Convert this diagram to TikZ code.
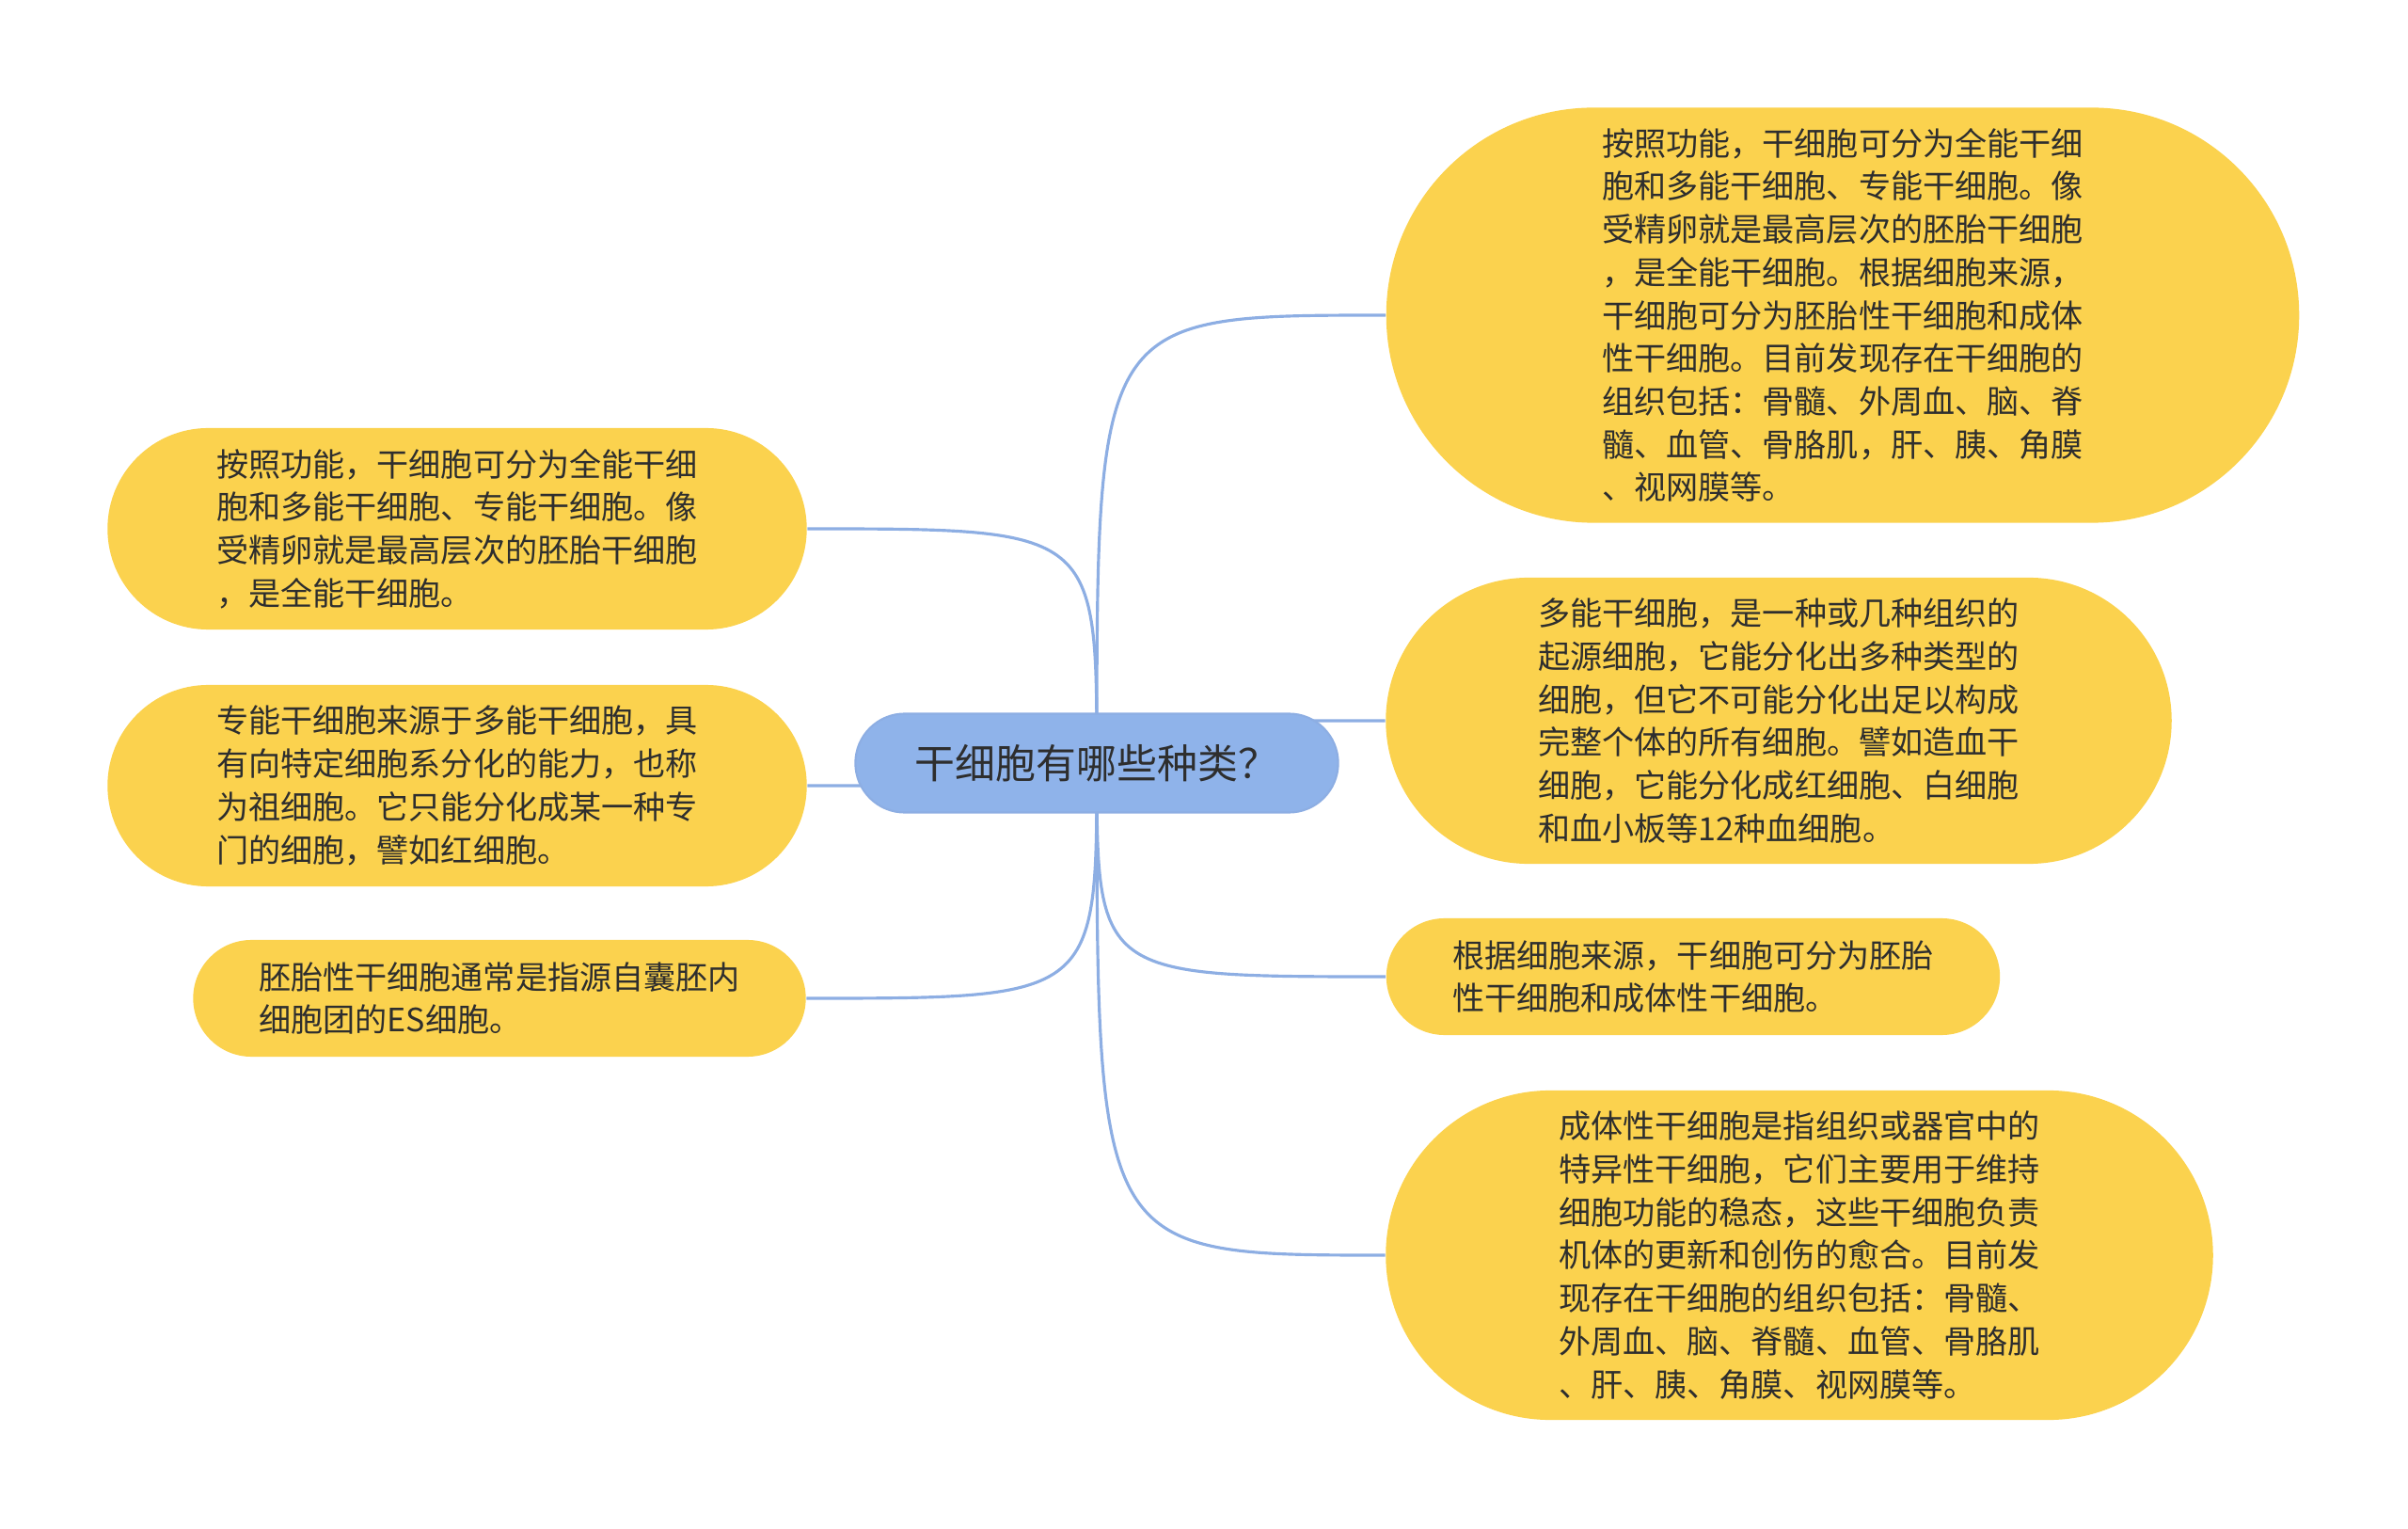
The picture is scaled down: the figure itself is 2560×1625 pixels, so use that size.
\documentclass[tikz,border=0pt]{standalone}
\usepackage{fontspec}
\setmainfont{Noto Sans CJK SC}
\usepackage{xcolor}
\usetikzlibrary{shapes.misc,backgrounds}

\definecolor{leafyellow}{HTML}{FBD24E}
\definecolor{rootblue}{HTML}{8FB3EA}
\definecolor{linkblue}{HTML}{8DAEE3}
\definecolor{inkgray}{HTML}{2E2E2E}

\begin{document}
\begin{tikzpicture}[x=0.01cm,y=-0.01cm,
    leaf/.style={rounded rectangle, fill=leafyellow, text=inkgray, align=left,
      inner sep=0pt, font=\fontsize{9.7pt}{13pt}\selectfont},
    root/.style={rounded rectangle, fill=rootblue, draw=linkblue, line width=0.6pt,
      text=inkgray, inner sep=0pt, font=\fontsize{12.2pt}{14pt}\selectfont},
    link/.style={draw=linkblue, line width=0.9pt}]
	\useasboundingbox (0,0) rectangle (2560,1625);
	% centre
	\node[root, minimum width=5.13cm, minimum height=1.05cm] (c) at (1166,811) {干细胞有哪些种类？};
	
	% left side
	\node[leaf, minimum width=7.43cm, minimum height=2.14cm] (l1) at (486,562)
		{按照功能，干细胞可分为全能干细\\胞和多能干细胞、专能干细胞。像\\受精卵就是最高层次的胚胎干细胞\\，是全能干细胞。};
	\node[leaf, minimum width=7.43cm, minimum height=2.14cm] (l2) at (486,835)
		{专能干细胞来源于多能干细胞，具\\有向特定细胞系分化的能力，也称\\为祖细胞。它只能分化成某一种专\\门的细胞，譬如红细胞。};
	\node[leaf, minimum width=6.51cm, minimum height=1.24cm] (l3) at (531,1061)
		{胚胎性干细胞通常是指源自囊胚内\\细胞团的ES细胞。};
	
	% right side
	\node[leaf, minimum width=9.70cm, minimum height=4.41cm] (r1) at (1959,335)
		{按照功能，干细胞可分为全能干细\\胞和多能干细胞、专能干细胞。像\\受精卵就是最高层次的胚胎干细胞\\，是全能干细胞。根据细胞来源，\\干细胞可分为胚胎性干细胞和成体\\性干细胞。目前发现存在干细胞的\\组织包括：骨髓、外周血、脑、脊\\髓、血管、骨胳肌，肝、胰、角膜\\、视网膜等。};
	\node[leaf, minimum width=8.35cm, minimum height=3.04cm] (r2) at (1891,766)
		{多能干细胞，是一种或几种组织的\\起源细胞，它能分化出多种类型的\\细胞，但它不可能分化出足以构成\\完整个体的所有细胞。譬如造血干\\细胞，它能分化成红细胞、白细胞\\和血小板等12种血细胞。};
	\node[leaf, minimum width=6.52cm, minimum height=1.24cm] (r3) at (1800,1038)
		{根据细胞来源，干细胞可分为胚胎\\性干细胞和成体性干细胞。};
	\node[leaf, minimum width=8.79cm, minimum height=3.50cm] (r4) at (1913,1334)
		{成体性干细胞是指组织或器官中的\\特异性干细胞，它们主要用于维持\\细胞功能的稳态，这些干细胞负责\\机体的更新和创伤的愈合。目前发\\现存在干细胞的组织包括：骨髓、\\外周血、脑、脊髓、血管、骨胳肌\\、肝、胰、角膜、视网膜等。};
	
	% links
	\begin{scope}[on background layer]
		\foreach \leafname/\side in {l1/east,l2/east,l3/east,r1/west,r2/west,r3/west,r4/west}
			\draw[link] (c.center) .. controls (c.center |- \leafname.\side) .. (\leafname.\side);
	\end{scope}
\end{tikzpicture}
\end{document}
